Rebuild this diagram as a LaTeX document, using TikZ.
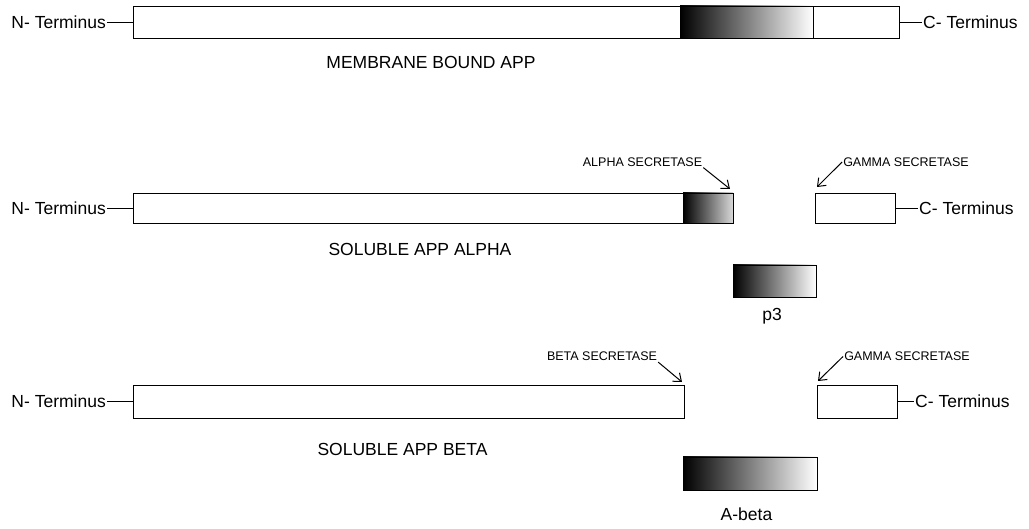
\documentclass[tikz,border=0pt]{standalone}
\usepackage{fontspec}
\setmainfont{Liberation Sans}
\usetikzlibrary{arrows.meta}
\begin{document}
\begin{tikzpicture}[x=1pt,y=-1pt,
  box/.style={draw=black,line width=0.8pt,inner sep=0pt,outer sep=0pt,fill=white},
  grad/.style={box,left color=black,right color=white},
  big/.style={font=\fontsize{17.5}{20}\selectfont,inner sep=1pt},
  small/.style={font=\fontsize{12.5}{14}\selectfont,inner sep=1pt},
  conn/.style={line width=0.9pt},
  cut/.style={line width=1pt,-{Straight Barb[length=7pt,width=11pt,line width=1pt]}}]
\useasboundingbox (0,0) rectangle (1029,529);

% Row 1: membrane bound APP
\node[box,minimum width=547pt,minimum height=32pt] (m1) at (406.5,22) {};
\node[grad,minimum width=133pt,minimum height=32pt] (m2) at (746.5,22) {};
\node[box,minimum width=86pt,minimum height=32pt] (m3) at (856,22) {};
\node[big,anchor=east] (nt1) at (107,22) {N- Terminus};
\node[big,anchor=west] (ct1) at (922,22) {C- Terminus};
\draw[conn] (nt1.east) -- (m1.west);
\draw[conn] (m3.east) -- (ct1.west);
\node[big] (lab1) at (431,62) {MEMBRANE BOUND APP};

% Row 2: soluble APP alpha
\node[box,minimum width=550pt,minimum height=30pt] (a1) at (408,208) {};
\node[box,left color=black,right color=black!15,minimum width=50pt,minimum height=30pt] (a2) at (708,208) {};
\node[box,minimum width=80pt,minimum height=30pt] (a3) at (855,208) {};
\node[big,anchor=east] (nt2) at (107,208) {N- Terminus};
\node[big,anchor=west] (ct2) at (918,208) {C- Terminus};
\draw[conn] (nt2.east) -- (a1.west);
\draw[conn] (a3.east) -- (ct2.west);
\node[small] (as) at (642.5,162) {ALPHA SECRETASE};
\node[small] (gs1) at (906,162) {GAMMA SECRETASE};
\draw[cut] (as.south east) -- ([shift={(-3pt,4pt)}]a2.north east);
\draw[cut] (gs1.west) -- ([shift={(2pt,6pt)}]a3.north west);
\node[big] (lab2) at (420,249) {SOLUBLE APP ALPHA};
\node[grad,minimum width=83pt,minimum height=32pt] (p3) at (774.5,281) {};
\node[big] (p3lab) at (772,316) {p3};

% Row 3: soluble APP beta
\node[box,minimum width=551pt,minimum height=33pt] (b1) at (408.5,401.5) {};
\node[box,minimum width=80pt,minimum height=33pt] (b3) at (857,401.5) {};
\node[big,anchor=east] (nt3) at (107,401.5) {N- Terminus};
\node[big,anchor=west] (ct3) at (914,401.5) {C- Terminus};
\draw[conn] (nt3.east) -- (b1.west);
\draw[conn] (b3.east) -- (ct3.west);
\node[small] (bs) at (602,356.5) {BETA SECRETASE};
\node[small] (gs2) at (907,356.5) {GAMMA SECRETASE};
\draw[cut] (bs.south east) -- ([shift={(-2pt,3pt)}]b1.north east);
\draw[cut] (gs2.west) -- ([shift={(1pt,4pt)}]b3.north west);
\node[big] (lab3) at (402.5,449) {SOLUBLE APP BETA};
\node[grad,minimum width=134pt,minimum height=33pt] (ab) at (750,473.5) {};
\node[big] (ablab) at (746.5,514) {A-beta};
\end{tikzpicture}
\end{document}
